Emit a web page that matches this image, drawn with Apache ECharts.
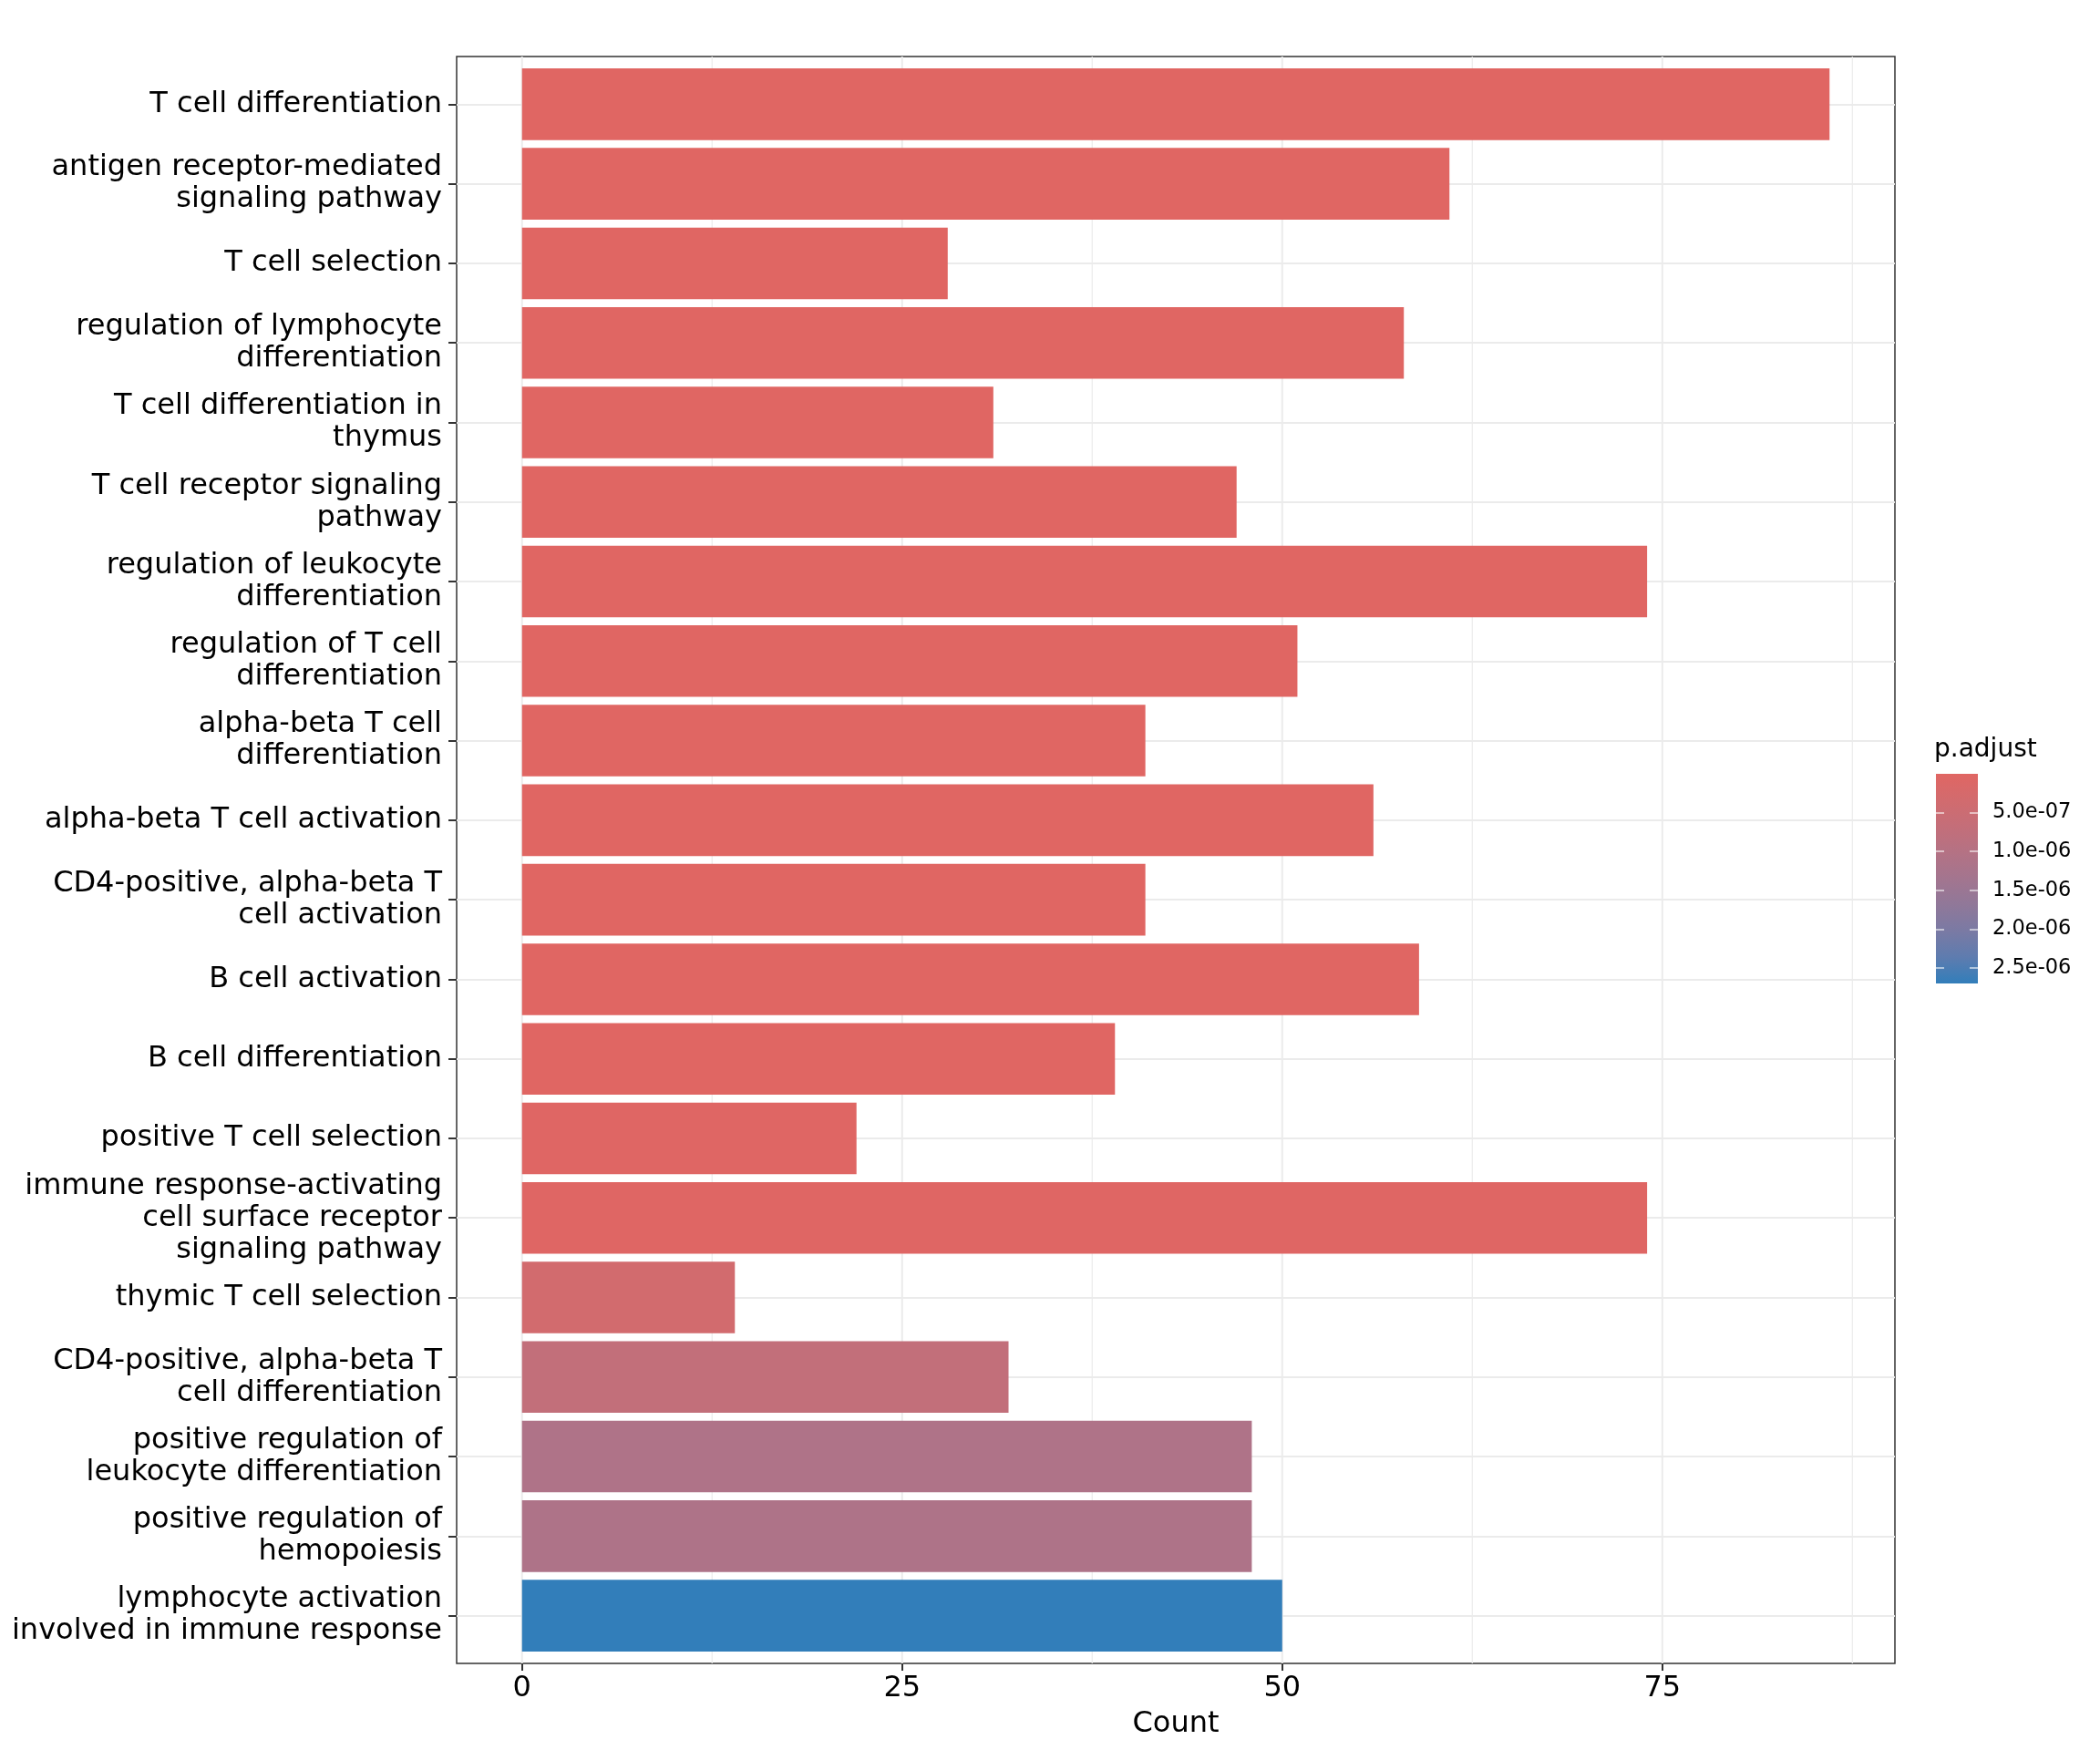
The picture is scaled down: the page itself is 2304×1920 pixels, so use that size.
<!DOCTYPE html>
<html>
<head>
<meta charset="utf-8">
<script src="https://cdn.jsdelivr.net/npm/echarts@6/dist/echarts.min.js"></script>
<style>
html,body{margin:0;padding:0;background:#fff;}
#chart{width:2304px;height:1920px;}
</style>
</head>
<body>
<div id="chart"></div>
<script>
// ---- data ----
const categories = [
  'T cell differentiation',
  'antigen receptor-mediated signaling pathway',
  'T cell selection',
  'regulation of lymphocyte differentiation',
  'T cell differentiation in thymus',
  'T cell receptor signaling pathway',
  'regulation of leukocyte differentiation',
  'regulation of T cell differentiation',
  'alpha-beta T cell differentiation',
  'alpha-beta T cell activation',
  'CD4-positive, alpha-beta T cell activation',
  'B cell activation',
  'B cell differentiation',
  'positive T cell selection',
  'immune response-activating cell surface receptor signaling pathway',
  'thymic T cell selection',
  'CD4-positive, alpha-beta T cell differentiation',
  'positive regulation of leukocyte differentiation',
  'positive regulation of hemopoiesis',
  'lymphocyte activation involved in immune response'
];
const counts = [86, 61, 28, 58, 31, 47, 74, 51, 41, 56, 41, 59, 39, 22, 74, 14, 32, 48, 48, 50];
const padjust = [2.1e-22, 4.5e-17, 3.2e-14, 5.8e-14, 1.1e-12, 2.4e-12, 3.6e-12, 8.9e-12, 1.5e-10, 2.7e-10,
                 6.3e-10, 1.2e-9, 4.8e-9, 2.6e-8, 3.1e-8, 3.4e-7, 7.2e-7, 1.12e-6, 1.14e-6, 2.70e-6];
const xTicks = [0, 25, 50, 75];
const xMinorGrid = [12.5, 37.5, 62.5, 87.5];
const legendTicks = [5e-7, 1e-6, 1.5e-6, 2e-6, 2.5e-6];
const colorStops = ['#E06663', '#D26B6E', '#C46E79', '#B47284', '#A3758F', '#907899', '#7A7AA4', '#5E7CAF', '#327EBA'];

// ---- helpers ----
function wrap(s, w) {
  const words = s.split(' ');
  const lines = [];
  let cur = '';
  for (const word of words) {
    if (cur === '') cur = word;
    else if ((cur + ' ' + word).length <= w) cur += ' ' + word;
    else { lines.push(cur); cur = word; }
  }
  if (cur) lines.push(cur);
  return lines.join('\n');
}
function sci(v) {
  return v.toExponential(1).replace(/e([+-])(\d)$/, 'e$10$2');
}

const cMax = Math.max(...counts);
const xMin = -0.05 * cMax, xMax = cMax * 1.05;
const pMin = Math.min(...padjust), pMax = Math.max(...padjust);

const FONT = 'DejaVu Sans';
// panel geometry
const PL = 501, PR = 225, PT = 62, PB = 95;
const PH = 1920 - PT - PB;
const unit = PH / (categories.length - 1 + 1.2);
const firstC = PT + 0.6 * unit;
const lastC = 1920 - PB - 0.6 * unit;

const barData = categories.map((c, i) => [counts[i], c, padjust[i]]);
const gridData = xTicks.map(v => [v, 1]).concat(xMinorGrid.map(v => [v, 0]));
const legendGradient = {
  type: 'linear', x: 0, y: 0, x2: 0, y2: 1,
  colorStops: colorStops.map((c, i) => ({offset: i / (colorStops.length - 1), color: c}))
};

const chart = echarts.init(document.getElementById('chart'), null, {renderer: 'canvas'});
chart.setOption({
  backgroundColor: '#ffffff',
  animation: false,
  textStyle: {fontFamily: FONT},
  title: {
    text: 'p.adjust', left: 2122, top: 809, padding: 0,
    textStyle: {fontFamily: FONT, fontSize: 28, fontWeight: 'normal', color: '#000'}
  },
  grid: [
    {left: PL, right: PR, top: PT, bottom: PB, show: true, borderColor: '#333333', borderWidth: 1.5, backgroundColor: '#fff'},
    {left: PL, right: PR, top: firstC, bottom: 1920 - lastC},
    {left: 2124, top: 849, width: 46, height: 230, show: true, borderWidth: 0, backgroundColor: legendGradient}
  ],
  xAxis: [
    {
      gridIndex: 0, type: 'value', min: xMin, max: xMax,
      axisLine: {show: false, onZero: false},
      axisTick: {show: true, customValues: xTicks, length: 8, lineStyle: {color: '#333', width: 2}},
      axisLabel: {customValues: xTicks, fontSize: 32, color: '#000', margin: 12, fontFamily: FONT},
      splitLine: {show: false},
      name: 'Count', nameLocation: 'middle', nameGap: 51,
      nameTextStyle: {fontSize: 32, color: '#000', fontFamily: FONT}
    },
    {gridIndex: 1, type: 'value', min: xMin, max: xMax, show: false},
    {gridIndex: 2, type: 'value', min: 0, max: 1, show: false}
  ],
  yAxis: [
    {gridIndex: 0, type: 'value', min: 0, max: 1, show: false},
    {
      gridIndex: 1, type: 'category', data: categories, inverse: true, boundaryGap: false,
      axisLine: {show: false, onZero: false},
      axisTick: {show: true, length: 9, lineStyle: {color: '#333', width: 2}},
      axisLabel: {fontSize: 32, color: '#000', margin: 16, lineHeight: 35, fontFamily: FONT,
                  align: 'right', padding: [6, 0, 0, 0], formatter: v => wrap(v, 29)},
      splitLine: {show: true, lineStyle: {color: '#EBEBEB', width: 2}}
    },
    {
      gridIndex: 2, type: 'value', min: pMin, max: pMax, inverse: true, position: 'right', z: 10,
      axisLine: {show: false, onZero: false},
      axisTick: {show: true, inside: true, length: 9, customValues: legendTicks, lineStyle: {color: 'rgba(255,255,255,0.75)', width: 1.5}},
      axisLabel: {customValues: legendTicks, formatter: sci, fontSize: 22.5, color: '#000', margin: 16, fontFamily: FONT,
                  padding: [4, 0, 0, 0]},
      splitLine: {show: false}
    },
    {
      gridIndex: 2, type: 'value', min: pMin, max: pMax, inverse: true, position: 'left', z: 10,
      axisLine: {show: false, onZero: false},
      axisTick: {show: true, inside: true, length: 9, customValues: legendTicks, lineStyle: {color: 'rgba(255,255,255,0.75)', width: 1.5}},
      axisLabel: {show: false},
      splitLine: {show: false}
    }
  ],
  visualMap: {
    type: 'continuous', show: false, seriesIndex: 1, dimension: 2,
    min: pMin, max: pMax,
    inRange: {color: colorStops}
  },
  series: [
    {
      type: 'custom', xAxisIndex: 0, yAxisIndex: 0, z: 1, silent: true,
      data: gridData,
      renderItem: function (params, api) {
        const v = api.value(0);
        const major = api.value(1) === 1;
        const p0 = api.coord([v, 0]);
        const p1 = api.coord([v, 1]);
        return {
          type: 'line',
          shape: {x1: p0[0], y1: p0[1], x2: p1[0], y2: p1[1]},
          style: {stroke: '#EBEBEB', lineWidth: major ? 2 : 1.2}
        };
      }
    },
    {
      type: 'bar', xAxisIndex: 1, yAxisIndex: 1, z: 3,
      data: barData, encode: {x: 0, y: 1},
      barWidth: '90%', clip: false, silent: true
    }
  ]
});
</script>
</body>
</html>
